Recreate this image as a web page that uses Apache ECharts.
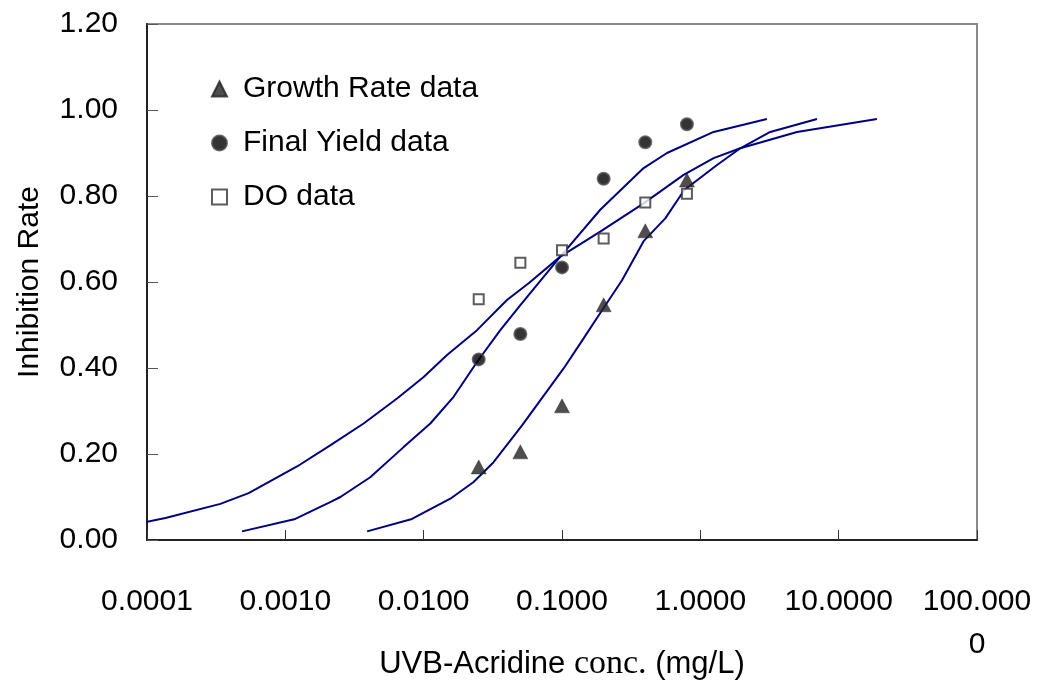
<!DOCTYPE html>
<html>
<head>
<meta charset="utf-8">
<script src="https://cdn.jsdelivr.net/npm/echarts@6/dist/echarts.min.js"></script>
<style>
html,body{margin:0;padding:0;background:#fff;}
#chart{width:1037px;height:690px;}
</style>
</head>
<body>
<div id="chart"></div>
<script>
// ---- data ----
const concentrations = [0.025, 0.05, 0.1, 0.2, 0.4, 0.8];
const growthRate = [0.170, 0.205, 0.312, 0.547, 0.719, 0.837];
const finalYield = [0.420, 0.479, 0.634, 0.840, 0.925, 0.967];
const doData     = [0.560, 0.645, 0.674, 0.701, 0.785, 0.805];

// fitted curves, points
const doCurveX = [0.0000884, 0.000136, 0.000339, 0.000543, 0.001215, 0.00211, 0.00368, 0.00642, 0.0100, 0.01475, 0.0243, 0.0400, 0.0574, 0.0972, 0.189, 0.389, 0.757, 1.247, 1.945, 5.0, 18.9];
const doCurveY = [0.039, 0.051, 0.084, 0.109, 0.171, 0.220, 0.271, 0.329, 0.379, 0.430, 0.488, 0.558, 0.597, 0.659, 0.717, 0.783, 0.849, 0.888, 0.911, 0.949, 0.979];

const fyCurveX = [0.000486, 0.00118, 0.00211, 0.00250, 0.00411, 0.00716, 0.01117, 0.01646, 0.0243, 0.0358, 0.0500, 0.0972, 0.189, 0.389, 0.574, 1.247, 3.03];
const fyCurveY = [0.020, 0.049, 0.088, 0.100, 0.146, 0.216, 0.271, 0.333, 0.414, 0.488, 0.546, 0.659, 0.768, 0.865, 0.900, 0.949, 0.979];

const grCurveX = [0.00390, 0.00823, 0.01558, 0.02296, 0.0320, 0.0516, 0.1027, 0.1433, 0.189, 0.2716, 0.389, 0.558, 0.766, 1.32, 1.945, 3.20, 6.97];
const grCurveY = [0.020, 0.049, 0.096, 0.135, 0.181, 0.267, 0.399, 0.469, 0.528, 0.604, 0.695, 0.748, 0.814, 0.872, 0.911, 0.949, 0.979];

const xTickLabels = ['0.0001', '0.0010', '0.0100', '0.1000', '1.0000', '10.0000', '100.000\n0'];
const yTickLabels = ['0.00', '0.20', '0.40', '0.60', '0.80', '1.00', '1.20'];
const seriesNames = ['Growth Rate data', 'Final Yield data', 'DO data'];

// ---- build ----
const pairs = (xs, ys) => xs.map((x, i) => [x, ys[i]]);
const FONT = 'Liberation Sans, Arial, sans-serif';
const FS = 30;
const curveStyle = { color: '#000080', width: 2 };

function curve(xs, ys) {
  return {
    type: 'line', data: pairs(xs, ys), showSymbol: false, symbol: 'none',
    clip: false, smooth: false, lineStyle: curveStyle, silent: true, z: 2,
    legendHoverLink: false
  };
}

const chart = echarts.init(document.getElementById('chart'), null, { renderer: 'canvas' });
chart.setOption({
  animation: false,
  backgroundColor: '#fff',
  textStyle: { fontFamily: FONT },
  grid: {
    left: 147, right: 60, top: 24, bottom: 150,
    outerBoundsMode: 'none', containLabel: false,
    show: true, borderColor: '#8a8a8a', borderWidth: 2, backgroundColor: 'transparent'
  },
  legend: {
    data: seriesNames,
    orient: 'vertical',
    left: 206, top: 69,
    itemWidth: 15, itemHeight: 15,
    itemGap: 24,
    textStyle: { fontSize: FS, color: '#000', fontFamily: FONT, padding: [0, 0, 0, 11], lineHeight: 30 },
    selectedMode: false
  },
  xAxis: {
    type: 'log', logBase: 10, min: 0.0001, max: 100,
    name: '{a|UVB-Acridine }{b|conc.}{a| (mg/L)}',
    nameLocation: 'middle', nameGap: 107, nameMoveOverlap: false,
    nameTextStyle: {
      rich: {
        a: { fontSize: 31, fontFamily: FONT, color: '#000' },
        b: { fontSize: 34, fontFamily: 'Liberation Serif, Times New Roman, serif', color: '#000' }
      }
    },
    axisLine: { lineStyle: { color: '#222', width: 2 } },
    axisTick: { inside: true, length: 10, lineStyle: { color: '#333', width: 1 } },
    minorTick: { show: false },
    splitLine: { show: false },
    axisLabel: {
      margin: 40, fontSize: FS, color: '#000', fontFamily: FONT, lineHeight: 43,
      showMinLabel: true, showMaxLabel: true,
      formatter: function (v) {
        const i = Math.round(Math.log10(v)) + 4;
        return xTickLabels[i] !== undefined ? xTickLabels[i] : '';
      }
    }
  },
  yAxis: {
    type: 'value', min: 0, max: 1.2, interval: 0.2,
    name: 'Inhibition Rate', nameLocation: 'middle', nameGap: 102, nameMoveOverlap: false,
    nameTextStyle: { fontSize: FS, color: '#000', fontFamily: FONT },
    axisLine: { show: true, lineStyle: { color: '#222', width: 2 } },
    axisTick: { show: true, inside: true, length: 11, lineStyle: { color: '#555', width: 1 } },
    splitLine: { show: false },
    axisLabel: {
      margin: 29, fontSize: FS, color: '#000', fontFamily: FONT,
      formatter: function (v) {
        const i = Math.round(v / 0.2);
        return yTickLabels[i] !== undefined ? yTickLabels[i] : '';
      }
    }
  },
  series: [
    curve(doCurveX, doCurveY),
    curve(fyCurveX, fyCurveY),
    curve(grCurveX, grCurveY),
    {
      name: seriesNames[0], type: 'scatter', data: pairs(concentrations, growthRate),
      symbol: 'triangle', symbolSize: [15, 14], z: 5,
      itemStyle: { color: '#222222', borderColor: '#222222', borderWidth: 0.5 }
    },
    {
      name: seriesNames[1], type: 'scatter', data: pairs(concentrations, finalYield),
      symbol: 'circle', symbolSize: 12, z: 5,
      itemStyle: { color: '#000000', borderColor: '#4a4a4a', borderWidth: 2 }
    },
    {
      name: seriesNames[2], type: 'scatter', data: pairs(concentrations, doData),
      symbol: 'rect', symbolSize: 10, z: 5,
      itemStyle: { color: '#ffffff', borderColor: '#333333', borderWidth: 2 }
    }
  ]
});
</script>
</body>
</html>
